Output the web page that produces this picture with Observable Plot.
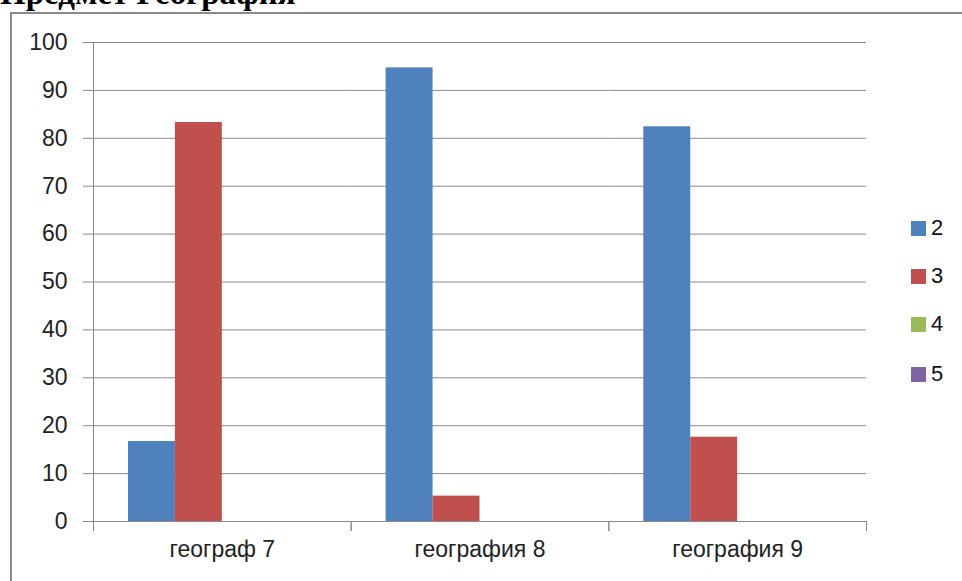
<!DOCTYPE html>
<html><head><meta charset="utf-8">
<script src="https://cdn.jsdelivr.net/npm/d3@7"></script>
<script src="https://cdn.jsdelivr.net/npm/@observablehq/plot@0.6"></script>
<style>
body{margin:0;background:#fff;}
#wrap{position:relative;width:962px;height:581px;overflow:hidden;font-family:"Liberation Sans",sans-serif;}
#title{position:absolute;left:0;top:-23px;font:bold 33px/33px "Liberation Serif",serif;color:#000;white-space:nowrap;}
#box{position:absolute;left:10px;top:12px;width:1000px;height:1000px;border:2px solid #8a8a8a;box-sizing:border-box;}
#chart{position:absolute;left:0;top:0;}
#legend{position:absolute;left:911px;top:0;}
.item{position:absolute;left:0;height:16px;white-space:nowrap;}
.sw{position:absolute;left:0;top:0;width:15px;height:15px;}
.lab{position:absolute;left:20px;top:-5px;font-size:22px;line-height:24px;color:#111;}
</style></head>
<body>
<div id="wrap">
  <div id="title">Предмет География</div>
  <div id="box"></div>
  <div id="chart"></div>
  <div id="legend"></div>
</div>
<script>
const titleText = "Предмет География";
const categories = ["географ 7", "география 8", "география 9"];
const series = ["2", "3", "4", "5"];
const values2 = [16.7, 94.7, 82.4];
const values3 = [83.3, 5.3, 17.6];
const values4 = [0, 0, 0];
const values5 = [0, 0, 0];
const colors = ["#4F81BD", "#C0504D", "#9BBB59", "#8064A2"];
const yTicks = [0, 10, 20, 30, 40, 50, 60, 70, 80, 90, 100];

const seriesValues = [values2, values3, values4, values5];
const data = categories.flatMap((c, i) =>
  series.map((s, j) => ({category: c, series: s, value: seriesValues[j][i]})));

const gray = "#8a8a8a";
const chart = Plot.plot({
  width: 962, height: 581,
  marginLeft: 93, marginRight: 96, marginTop: 42, marginBottom: 60,
  style: {fontFamily: "Liberation Sans, sans-serif", fontSize: "23px", color: "#222", background: "transparent"},
  fx: {domain: categories, padding: 0, round: false, label: null, tickSize: 0, tickPadding: 19, axis: "bottom"},
  x: {domain: series, paddingInner: 0, paddingOuter: 0.745, round: false, axis: null},
  y: {domain: [0, 100], axis: null},
  color: {domain: series, range: colors},
  marks: [
    Plot.gridY(yTicks, {stroke: gray, strokeOpacity: 1, strokeWidth: 1}),
    Plot.barY(data, {fx: "category", x: "series", y: "value", fill: "series", inset: 0}),
    Plot.axisY(yTicks, {tickSize: 10, tickPadding: 16, stroke: gray, strokeOpacity: 1, label: null, fontSize: 23}),
    Plot.frame({anchor: "left", facet: "super", stroke: gray, strokeOpacity: 1}),
    Plot.frame({anchor: "left", insetTop: 479, insetBottom: -9, stroke: gray, strokeOpacity: 1}),
    Plot.frame({anchor: "right", insetTop: 479, insetBottom: -9, stroke: gray, strokeOpacity: 1})
  ]
});
document.getElementById("chart").appendChild(chart);

const legendTops = [221, 269, 317, 367];
const legend = document.getElementById("legend");
series.forEach((s, i) => {
  const item = document.createElement("div");
  item.className = "item";
  item.style.top = legendTops[i] + "px";
  item.innerHTML = `<div class="sw" style="background:${colors[i]}"></div><div class="lab">${s}</div>`;
  legend.appendChild(item);
});
</script>
</body></html>
